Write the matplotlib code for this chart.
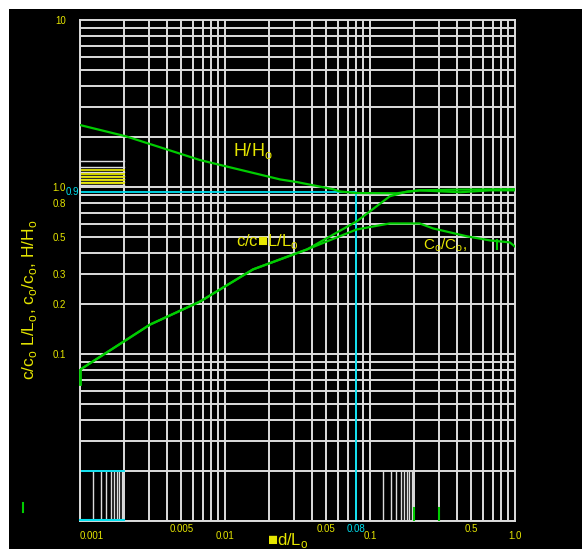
import numpy as np
import matplotlib.pyplot as plt
from matplotlib.patches import Rectangle
from matplotlib.lines import Line2D

# valeurs (d/L0 en abscisse)
hh_x = [0.001, 0.00208, 0.00672, 0.024, 0.0314, 0.0556, 0.0621, 0.081, 0.153, 0.219, 0.418, 0.67, 1.0]
hh_y = [2.35, 2.01, 1.45, 1.11, 1.07, 0.97, 0.94, 0.92, 0.917, 0.955, 0.93, 0.955, 0.955]

c_x = [0.001, 0.00304, 0.00672, 0.0156, 0.0368, 0.081, 0.137, 0.18, 0.22, 0.4, 1.0]
c_y = [0.0805, 0.150, 0.206, 0.321, 0.423, 0.623, 0.88, 0.94, 0.955, 0.965, 0.97]

cg_x = [0.001, 0.00304, 0.00672, 0.0156, 0.0368, 0.081, 0.137, 0.22, 0.272, 0.469, 0.67, 0.92, 1.0]
cg_y = [0.0805, 0.150, 0.206, 0.321, 0.423, 0.557, 0.605, 0.605, 0.565, 0.506, 0.479, 0.466, 0.44]

# repere cyan
ref_x = 0.08
ref_y = 0.93

xlabels_low = ['0.001', '0.01', '0.1', '1.0']
xlabels_high = ['0.005', '0.05', '0.5']
ylabels = ['10', '1.0', '0.8', '0.5', '0.3', '0.2', '0.1']

YEL = '#e6e600'
GRN = '#00cc00'
CYA = '#00e0f0'
GRD = '#dcdcdc'
plt.rcParams['font.family'] = ['Liberation Sans', 'DejaVu Sans']

fig = plt.figure(figsize=(5.82, 5.49), dpi=100, facecolor='white')
bg = Rectangle((9/582, 0), 1 - 9/582, 1 - 9/549, transform=fig.transFigure,
               facecolor='black', edgecolor='none', zorder=-10)
fig.add_artist(bg)

ax = fig.add_axes([80/582, 1 - 521/549, 435/582, 501/549])
ax.set_facecolor('black')
ax.set_xscale('log')
ax.set_yscale('log')
ax.set_xlim(0.001, 1.0)
ax.set_ylim(0.01, 10)

# grille log
subs = np.arange(1, 10)
for dec in [0.001, 0.01, 0.1]:
    for k in subs:
        ax.axvline(dec * k, color=GRD, lw=1.4, zorder=1)
for dec in [0.01, 0.1, 1.0]:
    for k in subs:
        ax.axhline(dec * k, color=GRD, lw=1.4, zorder=1)

# petites grilles locales
fine = 2.0 ** np.log10(np.arange(2, 10))
for f in fine:
    ax.plot([0.001 * f] * 2, [0.01, 0.02], color=GRD, lw=1.0, zorder=1)
    ax.plot([0.1 * f] * 2, [0.01, 0.02], color=GRD, lw=1.0, zorder=1)
for f in fine[1:]:
    ax.plot([0.001, 0.002], [2.0 / f] * 2, color=GRD, lw=1.0, zorder=1)
for yy in np.geomspace(1.05, 1.26, 5):
    ax.plot([0.001, 0.002], [yy] * 2, color=YEL, lw=1.3, zorder=2)
ax.plot([0.001, 0.002], [0.02, 0.02], color=CYA, lw=1.3, zorder=2)
ax.plot([0.001, 0.002], [0.0101, 0.0101], color=CYA, lw=1.5, zorder=4, clip_on=False)

# repere 0.08
ax.plot([0.001, ref_x, ref_x], [ref_y, ref_y, 0.01], color=CYA, lw=1.3, zorder=2)

# courbes
ax.plot(hh_x, hh_y, color=GRN, lw=1.6, zorder=3)
ax.plot(c_x, c_y, color=GRN, lw=1.6, zorder=3)
ax.plot(cg_x, cg_y, color=GRN, lw=1.6, zorder=3)
ax.plot([0.001, 0.001], [0.0805, 0.0658], color=GRN, lw=2, zorder=3, clip_on=False)
ax.plot([0.2, 0.2], [0.0102, 0.012], color=GRN, lw=1.5, zorder=3)
ax.plot([0.3, 0.3], [0.0102, 0.012], color=GRN, lw=1.5, zorder=3)
ax.plot([0.75, 0.75], [0.48, 0.425], color=GRN, lw=1.5, zorder=3)
fig.add_artist(Line2D([23/582, 23/582], [1 - 512/549, 1 - 503/549], color=GRN, lw=1.5))

for s in ax.spines.values():
    s.set_color(GRD)
    s.set_linewidth(1.4)

# etiquettes
ax.set_xticks([])
ax.set_xticks([], minor=True)
ax.set_yticks([10, 1.0, 0.8, 0.5, 0.3, 0.2, 0.1], ylabels)
ax.set_yticks([], minor=True)
ax.tick_params(axis='y', length=0, pad=10, labelsize=7, labelcolor=YEL)

tr = ax.get_xaxis_transform()
for lab in xlabels_low:
    ax.text(float(lab), -0.03, lab, transform=tr, color=YEL, fontsize=7,
            ha='left' if lab == '0.001' else 'center', va='center')
for lab in xlabels_high:
    ax.text(float(lab), -0.015, lab, transform=tr, color=YEL, fontsize=7, ha='center', va='center')
ax.text(ref_x, -0.015, '0.08', transform=tr, color=CYA, fontsize=7, ha='center', va='center')
ax.text(0.00098, ref_y, '0.9', color=CYA, fontsize=7, ha='right', va='center')

ax.text(0.0113, 1.64, r'H/H$_\mathregular{o}$', color=YEL, fontsize=13, va='center')
ax.text(0.0119, 0.472, r'c/c■L/L$_\mathregular{o}$', color=YEL, fontsize=12, va='center',
        family=['Liberation Sans', 'DejaVu Sans'])
ax.text(0.232, 0.447, r'C$_\mathregular{o}$/C$_\mathregular{o}$,', color=YEL, fontsize=11, va='center')

fig.text(288/582, 1 - 540/549, r'■d/L$_\mathregular{o}$', color=YEL, fontsize=12,
         ha='center', va='center', family=['Liberation Sans', 'DejaVu Sans'])
fig.text(30/582, 1 - 300/549, r'c/c$_\mathregular{o}$ L/L$_\mathregular{o}$, c$_\mathregular{o}$/c$_\mathregular{o}$, H/H$_\mathregular{o}$',
         color=YEL, fontsize=12.5, rotation=90, ha='center', va='center')

fig.savefig('out.png', dpi=100, facecolor=fig.get_facecolor())
